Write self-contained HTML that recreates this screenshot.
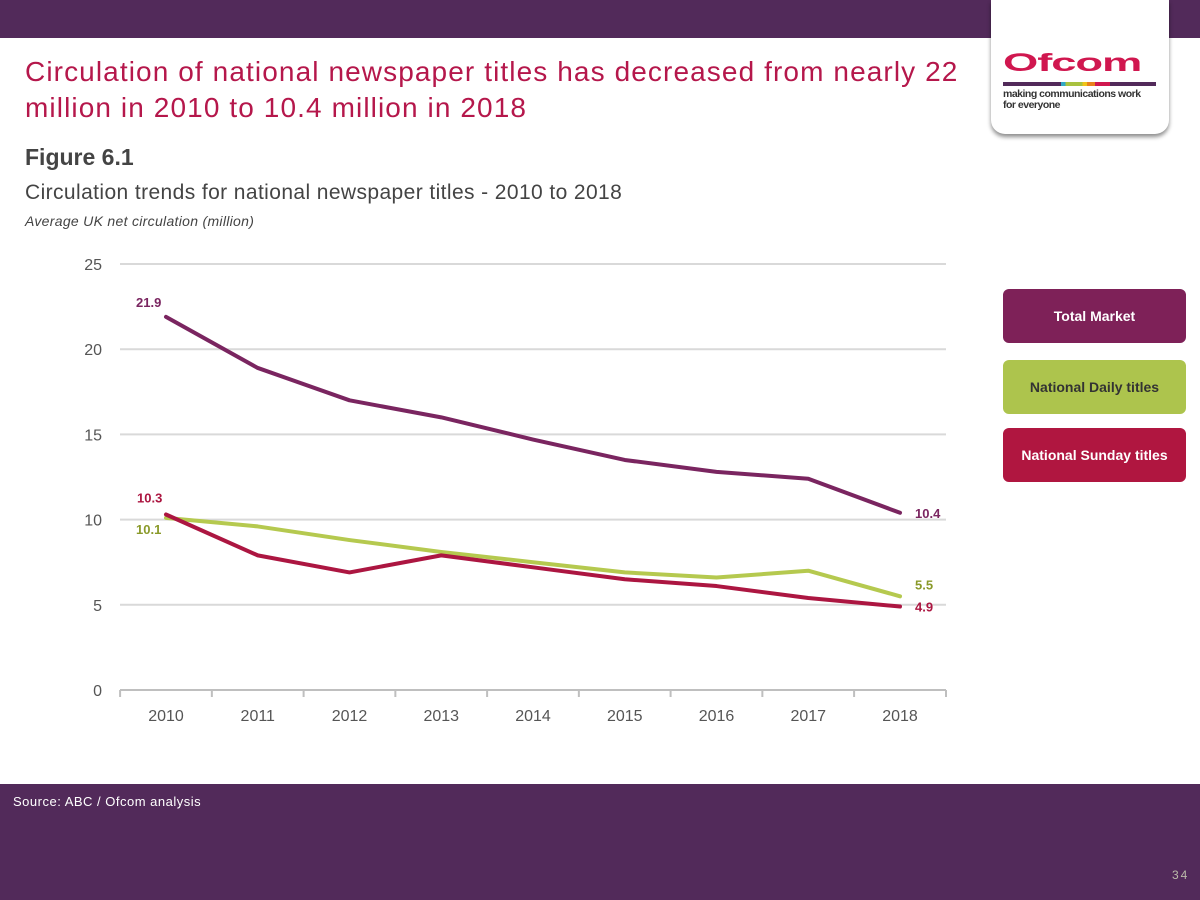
<!DOCTYPE html>
<html><head><meta charset="utf-8"><style>
body{margin:0;width:1200px;height:900px;position:relative;background:#fff;font-family:"Liberation Sans",sans-serif;overflow:hidden}
.abs{position:absolute}
</style></head><body>
<div class="abs" style="left:0;top:0;width:1200px;height:38px;background:#522a5a"></div>
<div class="abs" style="left:991px;top:0;width:178px;height:134px;background:#fff;border-radius:0 0 14px 14px;box-shadow:0 3px 4px rgba(0,0,0,.45)">
 <div style="position:absolute;left:12px;top:50px;font:900 42px 'Liberation Sans',sans-serif;color:#d0174f;letter-spacing:-1px;line-height:42px;transform:scale(1.08,.6);transform-origin:top left">Ofcom</div>
 <div style="position:absolute;left:12px;top:82px;width:153px;height:4px;background:linear-gradient(90deg,#522a5a 0 38%,#31a8c4 38% 41%,#a9c23f 41% 52%,#f0c419 52% 55%,#e8821e 55% 60%,#d0174f 60% 70%,#522a5a 70%)"></div>
 <div style="position:absolute;left:12px;top:89px;font:bold 10.5px 'Liberation Sans',sans-serif;color:#333;line-height:11px;letter-spacing:-.5px">making communications work<br>for everyone</div>
</div>
<div class="abs" style="left:25px;top:54px;font-size:28px;color:#b5174b;line-height:36px;width:960px;letter-spacing:1.1px;white-space:nowrap">Circulation of national newspaper titles has decreased from nearly 22<br>million in 2010 to 10.4 million in 2018</div>
<div class="abs" style="left:25px;top:144px;font-size:23px;font-weight:bold;color:#444">Figure 6.1</div>
<div class="abs" style="left:25px;top:181px;font-size:21px;color:#444;letter-spacing:.4px">Circulation trends for national newspaper titles - 2010 to 2018</div>
<div class="abs" style="left:25px;top:213px;font-size:14px;font-style:italic;color:#444;letter-spacing:.3px">Average UK net circulation (million)</div>
<svg class="abs" style="left:0;top:0" width="1200" height="900" id="chart"></svg>
<div class="abs" style="left:1003px;top:289px;width:183px;height:54px;background:#7e2158;border-radius:6px;color:#fff;font-weight:bold;font-size:14px;display:flex;align-items:center;justify-content:center">Total Market</div>
<div class="abs" style="left:1003px;top:360px;width:183px;height:54px;background:#adc44d;border-radius:6px;color:#333;font-weight:bold;font-size:14px;display:flex;align-items:center;justify-content:center">National Daily titles</div>
<div class="abs" style="left:1003px;top:428px;width:183px;height:54px;background:#b01640;border-radius:6px;color:#fff;font-weight:bold;font-size:14px;display:flex;align-items:center;justify-content:center">National Sunday titles</div>
<div class="abs" style="left:0;top:784px;width:1200px;height:116px;background:#522a5a"></div>
<div class="abs" style="left:13px;top:794px;font-size:13px;color:#fff;letter-spacing:.5px">Source: ABC / Ofcom analysis</div>
<div class="abs" style="left:1172px;top:868px;font-size:12px;color:#bba;letter-spacing:2px">34</div>
<script>
const years=["2010","2011","2012","2013","2014","2015","2016","2017","2018"];
const totalMarket=[21.9,18.9,17.0,16.0,14.7,13.5,12.8,12.4,10.4];
const dailyTitles=[10.1,9.6,8.8,8.1,7.5,6.9,6.6,7.0,5.5];
const sundayTitles=[10.3,7.9,6.9,7.9,7.2,6.5,6.1,5.4,4.9];
const yTicks=[0,5,10,15,20,25];
const svg=document.getElementById('chart');
const NS='http://www.w3.org/2000/svg';
const x=i=>166+i*91.75, y=v=>690-v*17.04;
function mk(t,a){const e=document.createElementNS(NS,t);for(const k in a)e.setAttribute(k,a[k]);svg.appendChild(e);return e;}
yTicks.forEach(t=>{
 if(t>0){const g=mk('line',{x1:120,x2:946,y1:y(t),y2:y(t),stroke:'#d9d9d9','stroke-width':2});
 
 }
 const l=mk('text',{x:102,y:y(t)+6,'text-anchor':'end','font-size':16,fill:'#555','font-family':'Liberation Sans, sans-serif'});l.textContent=t;
 
 
});
const ax=mk('line',{x1:120,x2:946,y1:690,y2:690,stroke:'#bfbfbf','stroke-width':2});


years.forEach((yr,i)=>{
 const tk=mk('line',{x1:x(i)-45.9,x2:x(i)-45.9,y1:690,y2:697,stroke:'#bfbfbf','stroke-width':2});
 
 
 const l=mk('text',{x:x(i),y:721,'text-anchor':'middle','font-size':16,fill:'#555','font-family':'Liberation Sans, sans-serif'});l.textContent=yr;
 
 
});
const tk=mk('line',{x1:946,x2:946,y1:690,y2:697,stroke:'#bfbfbf','stroke-width':2});


function series(arr,col,name){
 const p=mk('polyline',{points:arr.map((v,i)=>x(i)+','+y(v)).join(' '),fill:'none',stroke:col,'stroke-width':4,'stroke-linejoin':'round','stroke-linecap':'round'});
 
 
}
series(dailyTitles,'#b5c94f','series-national-daily');
series(totalMarket,'#7a2560','series-total-market');
series(sundayTitles,'#ac1641','series-national-sunday');
function lbl(txt,xx,yy,col){const l=mk('text',{x:xx,y:yy,'font-size':13,'font-weight':'bold',fill:col,'font-family':'Liberation Sans, sans-serif'});l.textContent=txt;
 
 }
lbl(totalMarket[0].toFixed(1),136,y(totalMarket[0])-10,'#7a2560');
lbl(totalMarket[8].toFixed(1),915,y(totalMarket[8])+5,'#7a2560');
lbl(sundayTitles[0].toFixed(1),137,y(sundayTitles[0])-12,'#ac1641');
lbl(dailyTitles[0].toFixed(1),136,y(dailyTitles[0])+16,'#8a9a2a');
lbl(dailyTitles[8].toFixed(1),915,y(dailyTitles[8])-7,'#8a9a2a');
lbl(sundayTitles[8].toFixed(1),915,y(sundayTitles[8])+5,'#ac1641');
</script>
</body></html>
